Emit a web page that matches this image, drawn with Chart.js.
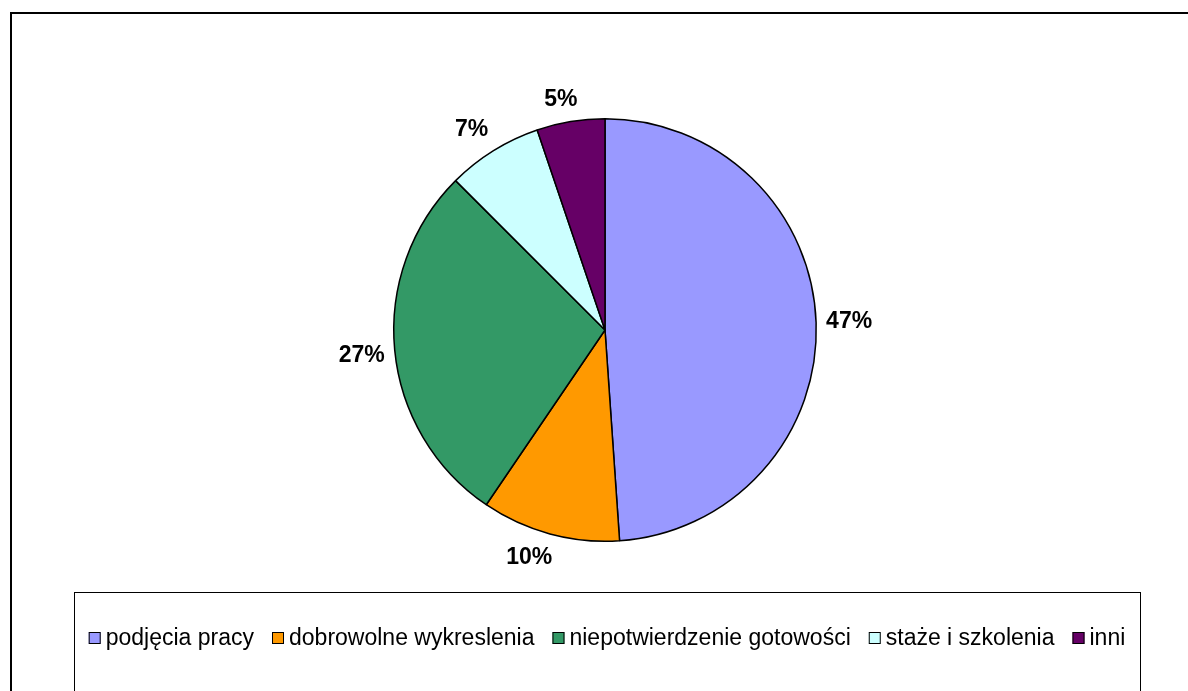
<!DOCTYPE html>
<html>
<head>
<meta charset="utf-8">
<script src="https://cdn.jsdelivr.net/npm/chart.js@4/dist/chart.umd.min.js"></script>
<style>
  html, body { margin: 0; padding: 0; background: #fff; }
  canvas { display: block; }
</style>
</head>
<body>
<canvas id="wykres" width="1188" height="691"></canvas>
<script>
// dane
const kategorie = ['podjęcia pracy', 'dobrowolne wykreslenia', 'niepotwierdzenie gotowości', 'staże i szkolenia', 'inni'];
const wartosci = [48.9, 10.6, 28.0, 7.3, 5.2];
const etykiety = ['47%', '10%', '27%', '7%', '5%'];
const kolory = ['#9999FF', '#FF9900', '#339966', '#CCFFFF', '#660066'];

const ogranicz = v => Math.max(-1, Math.min(1, v));

// ramka + legenda w stylu Excela
const ramka = {
  id: 'ramka',
  beforeDraw(chart) {
    const ctx = chart.ctx;
    ctx.save();
    ctx.fillStyle = '#fff';
    ctx.fillRect(0, 0, chart.width, chart.height);
    ctx.strokeStyle = '#000';
    ctx.lineWidth = 2;
    ctx.strokeRect(11, 13, chart.width + 20, chart.height + 20);
    ctx.restore();
  },
  afterDraw(chart) {
    const ctx = chart.ctx;
    ctx.save();
    // pudełko legendy
    ctx.strokeStyle = '#000';
    ctx.lineWidth = 1;
    ctx.strokeRect(74.5, 592.5, 1066, 200);

    ctx.font = '23px "Liberation Sans", Arial, sans-serif';
    ctx.textBaseline = 'middle';
    const kw = 12, odstep = 5, przerwa = 18;
    const szer = kategorie.map(k => ctx.measureText(k).width);
    const calosc = szer.reduce((a, b) => a + b, 0) + kategorie.length * (kw + odstep) + (kategorie.length - 1) * przerwa;
    let x = 74 + (1066 - calosc) / 2;
    const y = 638;
    kategorie.forEach((k, i) => {
      ctx.fillStyle = kolory[i];
      ctx.fillRect(x, y - kw / 2, kw, kw);
      ctx.strokeStyle = '#000';
      ctx.strokeRect(x + 0.5, y - kw / 2 + 0.5, kw - 1, kw - 1);
      x += kw + odstep;
      ctx.fillStyle = '#000';
      ctx.fillText(k, x, y + 1);
      x += szer[i] + przerwa;
    });
    ctx.restore();
  },
  afterDatasetsDraw(chart) {
    // etykiety procentowe na zewnątrz wycinków
    const ctx = chart.ctx;
    const meta = chart.getDatasetMeta(0);
    ctx.save();
    ctx.font = 'bold 23px "Liberation Sans", Arial, sans-serif';
    ctx.fillStyle = '#000';
    ctx.textAlign = 'center';
    ctx.textBaseline = 'middle';
    meta.data.forEach((arc, i) => {
      const p = arc.getProps(['x', 'y', 'startAngle', 'endAngle', 'outerRadius'], true);
      const kat = (p.startAngle + p.endAngle) / 2;
      const ux = Math.cos(kat), uy = Math.sin(kat);
      const r = p.outerRadius + 10;
      const w = ctx.measureText(etykiety[i]).width;
      const h = 26;
      const cx = p.x + r * ux + ogranicz(3 * ux) * w / 2;
      const cy = p.y + r * uy + ogranicz(3 * uy) * h / 2;
      ctx.fillText(etykiety[i], cx, cy + 1);
    });
    ctx.restore();
  }
};

new Chart(document.getElementById('wykres'), {
  type: 'pie',
  data: {
    labels: kategorie,
    datasets: [{
      data: wartosci,
      backgroundColor: kolory,
      borderColor: '#000',
      borderWidth: 1.5
    }]
  },
  options: {
    responsive: false,
    animation: false,
    layout: { padding: { left: 393, right: 371, top: 118, bottom: 149 } },
    plugins: {
      legend: { display: false },
      tooltip: { enabled: false }
    }
  },
  plugins: [ramka]
});
</script>
</body>
</html>
